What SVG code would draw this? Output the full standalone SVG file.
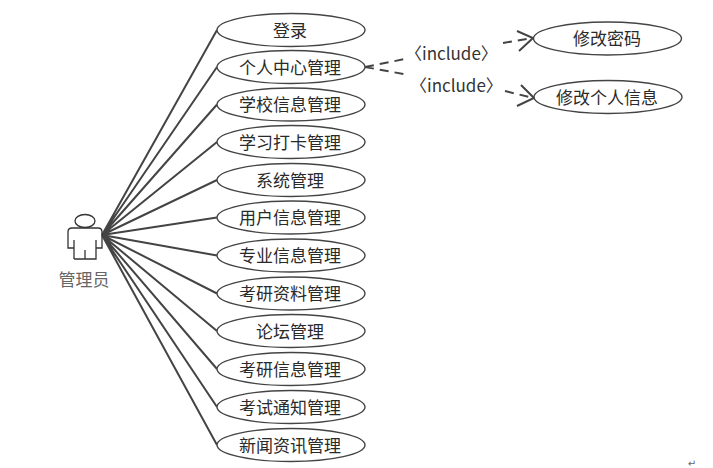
<svg xmlns="http://www.w3.org/2000/svg" width="713" height="468" viewBox="0 0 713 468">
<style>
.uc{fill:#fff;stroke:#444;stroke-width:1.4}
.t{font-family:"Noto Sans CJK SC","Noto Sans",sans-serif;font-size:17px;fill:#2a2a2a;text-anchor:middle}
.l{fill:none;stroke:#444;stroke-width:2}
.d{fill:none;stroke:#444;stroke-width:2;stroke-dasharray:9 6}
.a{fill:none;stroke:#444;stroke-width:2}
.i{font-family:"Noto Sans CJK SC","Noto Sans",sans-serif;font-size:17px;fill:#333}
</style>
<rect width="713" height="468" fill="#fff"/>
<g id="connectors">
<path class="l" d="M102 235L217 30M102 235L217 67M102 235L217 104.500M102 235L217 142M102 235L217 180M102 235L217 217.500M102 235L217 255.500M102 235L217 293.500M102 235L217 331M102 235L217 369M102 235L217 407M102 235L217 445"/>
<path class="d" d="M365 67L405 59M365 67L409 75M503 43L532 38M505 91L533 98"/>
<path class="a" d="M517 31L533 38L519 51M521 85L534 98L517 106"/>
</g>
<g id="actor">
<ellipse cx="85" cy="221" rx="10" ry="6.500" fill="#fff" stroke="#333" stroke-width="1.300"/>
<path d="M74 259V240V248H68V232Q68 228 72 228H98Q102 228 102 232V248H96V240V259H74M85 250V259" fill="none" stroke="#333" stroke-width="1.300"/>
<text x="84" y="286" font-family="&quot;Noto Sans CJK SC&quot;,sans-serif" font-size="17" fill="#666" text-anchor="middle">管理员</text>
</g>
<g id="n1"><ellipse class="uc" cx="291" cy="30" rx="74" ry="16.500"/><text class="t" x="290" y="36.500">登录</text></g>
<g id="n2"><ellipse class="uc" cx="291" cy="67" rx="74" ry="16.500"/><text class="t" x="290" y="73.500">个人中心管理</text></g>
<g id="n3"><ellipse class="uc" cx="291" cy="104.500" rx="74" ry="16.500"/><text class="t" x="290" y="111">学校信息管理</text></g>
<g id="n4"><ellipse class="uc" cx="291" cy="142" rx="74" ry="16.500"/><text class="t" x="290" y="148.500">学习打卡管理</text></g>
<g id="n5"><ellipse class="uc" cx="291" cy="180" rx="74" ry="16.500"/><text class="t" x="290" y="186.500">系统管理</text></g>
<g id="n6"><ellipse class="uc" cx="291" cy="217.500" rx="74" ry="16.500"/><text class="t" x="290" y="224">用户信息管理</text></g>
<g id="n7"><ellipse class="uc" cx="291" cy="255.500" rx="74" ry="16.500"/><text class="t" x="290" y="262">专业信息管理</text></g>
<g id="n8"><ellipse class="uc" cx="291" cy="293.500" rx="74" ry="16.500"/><text class="t" x="290" y="300">考研资料管理</text></g>
<g id="n9"><ellipse class="uc" cx="291" cy="331" rx="74" ry="16.500"/><text class="t" x="290" y="337.500">论坛管理</text></g>
<g id="n10"><ellipse class="uc" cx="291" cy="369" rx="74" ry="16.500"/><text class="t" x="290" y="375.500">考研信息管理</text></g>
<g id="n11"><ellipse class="uc" cx="291" cy="407" rx="74" ry="16.500"/><text class="t" x="290" y="413.500">考试通知管理</text></g>
<g id="n12"><ellipse class="uc" cx="291" cy="445" rx="74" ry="16.500"/><text class="t" x="290" y="451.500">新闻资讯管理</text></g>
<g id="n13"><ellipse class="uc" cx="607.500" cy="38.500" rx="74" ry="16.500"/><text class="t" x="607" y="44.500">修改密码</text></g>
<g id="n14"><ellipse class="uc" cx="608" cy="97" rx="74" ry="16.500"/><text class="t" x="607" y="103.500">修改个人信息</text></g>
<text class="i" x="405" y="60">〈include〉</text>
<text class="i" x="410" y="92">〈include〉</text>
<text x="692" y="467" font-family="&quot;DejaVu Sans&quot;,sans-serif" font-size="10" fill="#666" text-anchor="middle">↵</text>
</svg>
